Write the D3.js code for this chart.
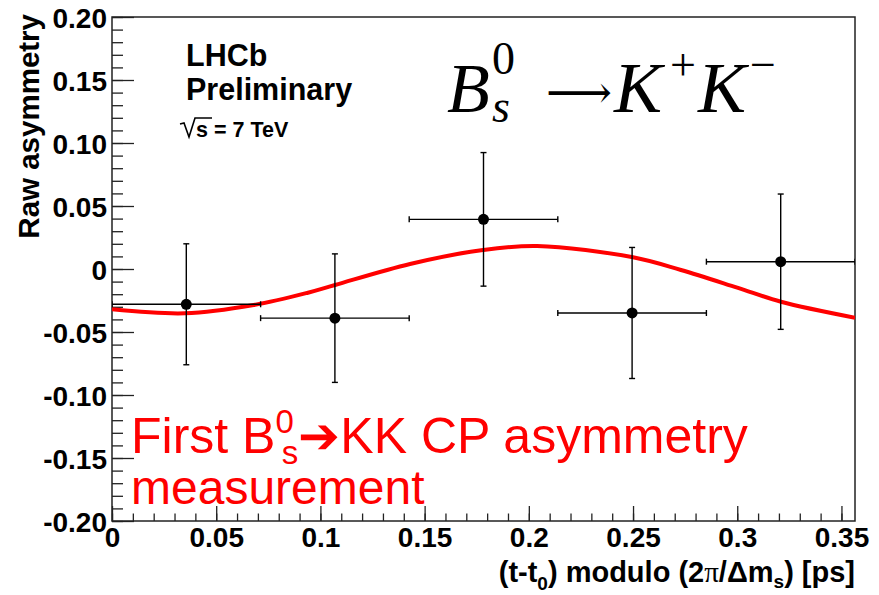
<!DOCTYPE html>
<html>
<head>
<meta charset="utf-8">
<script src="https://cdn.jsdelivr.net/npm/d3@7"></script>
<style>
  html, body { margin: 0; padding: 0; background: #fff; }
  svg { display: block; }
</style>
</head>
<body>
<svg id="chart" width="879" height="595"></svg>
<script>
// ---- data ----
const binCenters = [0.03565, 0.10695, 0.17825, 0.24955, 0.32085];
const binHalfWidth = [0.03565, 0.03565, 0.03565, 0.03565, 0.03565];
const asymValues = [-0.028, -0.039, 0.0394, -0.0349, 0.0058];
const asymErrors = [0.048, 0.051, 0.053, 0.052, 0.0537];
// fit curve
const fitX = [0, 0.035, 0.068, 0.094, 0.107, 0.143, 0.178, 0.204, 0.250, 0.273, 0.300, 0.321, 0.3565];
const fitY = [-0.032, -0.0352, -0.0286, -0.0188, -0.0127, 0.0040, 0.0151, 0.0183, 0.0093, -0.0008, -0.0148, -0.026, -0.0387];
const xTickValues = [0, 0.05, 0.1, 0.15, 0.2, 0.25, 0.3, 0.35];
const xTickLabels = ["0", "0.05", "0.1", "0.15", "0.2", "0.25", "0.3", "0.35"];
const yTickValues = [-0.2, -0.15, -0.1, -0.05, 0, 0.05, 0.1, 0.15, 0.2];
const yTickLabels = ["-0.20", "-0.15", "-0.10", "-0.05", "0", "0.05", "0.10", "0.15", "0.20"];

// ---- layout ----
const W = 879, H = 595;
const m = { left: 112, top: 17, right: 24, bottom: 74 };
const svg = d3.select("#chart");
const x = d3.scaleLinear().domain([0, 0.3565]).range([m.left, W - m.right]);
const y = d3.scaleLinear().domain([-0.2, 0.2]).range([H - m.bottom, m.top]);
const font = "'Liberation Sans', Arial, Helvetica, sans-serif";

svg.append("defs").append("clipPath").attr("id", "clip")
  .append("rect").attr("x", m.left).attr("y", m.top)
  .attr("width", W - m.left - m.right).attr("height", H - m.top - m.bottom);

// minor ticks
const xMinor = d3.range(0, 36).map(i => i * 0.01).filter(v => v <= 0.3565);
const yMinor = d3.range(-20, 21).map(i => i * 0.01);

const gx = svg.append("g").attr("transform", `translate(0,${H - m.bottom})`)
  .call(d3.axisBottom(x).tickValues(xMinor).tickSize(-7.5).tickFormat(""));
const gy = svg.append("g").attr("transform", `translate(${m.left},0)`)
  .call(d3.axisLeft(y).tickValues(yMinor).tickSize(-11).tickFormat(""));

const gxMaj = svg.append("g").attr("transform", `translate(0,${H - m.bottom})`)
  .call(d3.axisBottom(x).tickValues(xTickValues).tickSize(-15).tickPadding(26)
    .tickFormat((d, i) => xTickLabels[i]));
const gyMaj = svg.append("g").attr("transform", `translate(${m.left},0)`)
  .call(d3.axisLeft(y).tickValues(yTickValues).tickSize(-22).tickPadding(5)
    .tickFormat((d, i) => yTickLabels[i]));

[gx, gy, gxMaj, gyMaj].forEach(g => {
  g.select(".domain").remove();
  g.selectAll(".tick line").attr("stroke", "#222").attr("stroke-width", 1.3);
  g.selectAll("text").attr("font-family", font).attr("font-weight", "bold")
    .attr("font-size", 28).attr("fill", "#000");
});
gyMaj.selectAll("text").attr("dy", "0.36em");
gxMaj.selectAll("text").attr("dy", "0");

// frame
svg.append("rect").attr("x", m.left).attr("y", m.top)
  .attr("width", W - m.left - m.right).attr("height", H - m.top - m.bottom)
  .attr("fill", "none").attr("stroke", "#222").attr("stroke-width", 1.5);

// axis titles
svg.append("text").attr("x", W - m.right).attr("y", 582)
  .attr("text-anchor", "end").attr("font-family", font).attr("font-weight", "bold")
  .attr("font-size", 29)
  .html('(t-t<tspan font-size="19" dy="8">0</tspan><tspan dy="-8">) modulo (2</tspan><tspan font-family="Liberation Serif, serif" font-weight="normal">π</tspan>/Δm<tspan font-size="19" dy="6">s</tspan><tspan dy="-6">) [ps]</tspan>');

svg.append("text").attr("transform", `translate(39,${m.top - 3}) rotate(-90)`)
  .attr("text-anchor", "end").attr("font-family", font).attr("font-weight", "bold")
  .attr("font-size", 29.5).text("Raw asymmetry");

// fit curve
const plot = svg.append("g").attr("clip-path", "url(#clip)");
const fitPts = fitX.map((v, i) => [v, fitY[i]]);
plot.append("path").datum(fitPts)
  .attr("d", d3.line().x(d => x(d[0])).y(d => y(d[1])).curve(d3.curveCatmullRom))
  .attr("fill", "none").attr("stroke", "#ff0000").attr("stroke-width", 4);

// data points with error bars
const pts = binCenters.map((c, i) => ({ x: c, hw: binHalfWidth[i], y: asymValues[i], e: asymErrors[i] }));
const cap = 3;
const eg = plot.append("g").attr("stroke", "#000").attr("stroke-width", 1.4);
pts.forEach(p => {
  eg.append("line").attr("x1", x(p.x - p.hw)).attr("x2", x(p.x + p.hw)).attr("y1", y(p.y)).attr("y2", y(p.y));
  eg.append("line").attr("x1", x(p.x)).attr("x2", x(p.x)).attr("y1", y(p.y - p.e)).attr("y2", y(p.y + p.e));
  [p.x - p.hw, p.x + p.hw].forEach(v => eg.append("line").attr("x1", x(v)).attr("x2", x(v)).attr("y1", y(p.y) - cap).attr("y2", y(p.y) + cap));
  [p.y - p.e, p.y + p.e].forEach(v => eg.append("line").attr("x1", x(p.x) - cap).attr("x2", x(p.x) + cap).attr("y1", y(v)).attr("y2", y(v)));
});
plot.append("g").selectAll("circle").data(pts).join("circle")
  .attr("cx", d => x(d.x)).attr("cy", d => y(d.y)).attr("r", 5.5).attr("fill", "#000");

// LHCb labels
svg.append("text").attr("x", 186).attr("y", 66).attr("font-family", font).attr("font-weight", "bold")
  .attr("font-size", 30.5).text("LHCb");
svg.append("text").attr("x", 186).attr("y", 100).attr("font-family", font).attr("font-weight", "bold")
  .attr("font-size", 30.5).text("Preliminary");
svg.append("path").attr("d", "M180,124 L184,123 L189,137 L195,118 L212,118")
  .attr("fill", "none").attr("stroke", "#000").attr("stroke-width", 1.6);
svg.append("text").attr("x", 196).attr("y", 137).attr("font-family", font).attr("font-weight", "bold")
  .attr("font-size", 21.5).text("s = 7 TeV");

// decay title
const tt = svg.append("g").attr("font-family", "'Liberation Serif', 'Times New Roman', serif");
tt.append("text").attr("x", 447).attr("y", 112).attr("font-style", "italic").attr("font-size", 70).text("B");
tt.append("text").attr("x", 492).attr("y", 74).attr("font-size", 46).text("0");
tt.append("text").attr("x", 492).attr("y", 122).attr("font-style", "italic").attr("font-size", 46).text("s");
tt.append("text").attr("x", 546).attr("y", 108).attr("font-family", "'DejaVu Serif', serif").attr("font-size", 46)
  .attr("textLength", 66).attr("lengthAdjust", "spacingAndGlyphs").text("⟶");
tt.append("text").attr("x", 614).attr("y", 112).attr("font-style", "italic").attr("font-size", 72).text("K");
tt.append("text").attr("x", 670).attr("y", 80).attr("font-size", 46).text("+");
tt.append("text").attr("x", 698).attr("y", 112).attr("font-style", "italic").attr("font-size", 72).text("K");
tt.append("text").attr("x", 750).attr("y", 80).attr("font-size", 46).text("−");

// red annotation
const red = svg.append("g").attr("font-family", font).attr("fill", "#ff0000");
red.append("text").attr("x", 131).attr("y", 453).attr("font-size", 50)
  .html('First B<tspan font-size="33" dy="-20">0</tspan><tspan font-size="33" dy="31" dx="-12">s</tspan><tspan dy="-11">➔KK CP asymmetry</tspan>');
red.append("text").attr("x", 131).attr("y", 504).attr("font-size", 48).text("measurement");
</script>
</body>
</html>
